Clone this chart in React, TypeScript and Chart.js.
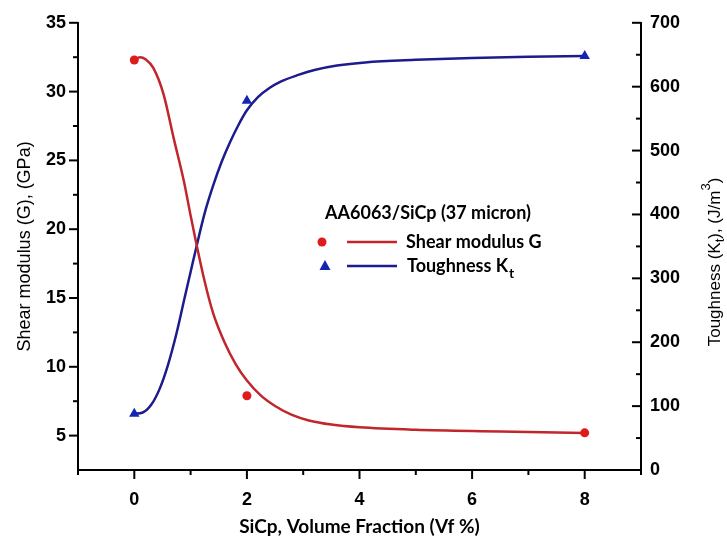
import React, { useEffect, useRef } from 'react';
import { Chart, registerables } from 'chart.js';
Chart.register(...registerables);

// ---- data ----
const xTicks = [0, 2, 4, 6, 8];
const xMinor = [-1, 1, 3, 5, 7, 9];
const gTicks = [5, 10, 15, 20, 25, 30, 35];
const gMinor = [7.5, 12.5, 17.5, 22.5, 27.5, 32.5];
const ktTicks = [0, 100, 200, 300, 400, 500, 600, 700];
const ktMinor = [50, 150, 250, 350, 450, 550, 650];

const vfMeasured = [0, 2, 8];
const gMeasured = [32.3, 7.9, 5.2];
const ktMeasured = [88, 578, 648];

const gFitX = [0, 0.1, 0.2, 0.34, 0.52, 0.7, 0.88, 1.0, 1.1, 1.25, 1.4, 1.6, 1.8, 2.0, 2.25, 2.5, 2.8, 3.1, 3.5, 4.0, 5.0, 6.5, 8];
const gFitY = [32.3, 32.5, 32.35, 31.7, 29.8, 26.6, 23.5, 21.0, 19.0, 16.2, 13.9, 11.8, 10.2, 9.0, 7.9, 7.15, 6.5, 6.1, 5.8, 5.6, 5.42, 5.3, 5.18];

const ktFitX = [0, 0.15, 0.3, 0.45, 0.6, 0.75, 0.9, 1.0, 1.1, 1.25, 1.4, 1.55, 1.7, 1.85, 2.0, 2.2, 2.4, 2.6, 2.9, 3.2, 3.6, 4.1, 5.0, 6.0, 7.0, 8];
const ktFitY = [88, 90, 102, 127, 165, 214, 272, 310, 348, 402, 445, 482, 513, 540, 563, 584, 598, 608, 618, 626, 633, 638, 642, 645, 647, 648];

const legendTitle = 'AA6063/SiCp (37 micron)';
const gLabel = 'Shear modulus G';
const ktLabel = 'Toughness K';
const ktLabelSub = 't';
const xTitle = 'SiCp, Volume Fraction (Vf %)';
const gTitle = 'Shear modulus (G), (GPa)';

const RED_LINE = '#c0262b';
const RED_PT = '#e01b1b';
const BLUE_LINE = '#1c1c8e';
const BLUE_PT = '#1424b4';

const decor = {
  id: 'decor',
  afterDraw(chart: any) {
    const { ctx, chartArea: ca, scales } = chart;
    const sx = scales.x, sl = scales.y, sr = scales.y1;
    ctx.save();
    ctx.strokeStyle = '#000';
    ctx.lineWidth = 2;
    const seg = (x1: number, y1: number, x2: number, y2: number) => {
      ctx.beginPath(); ctx.moveTo(x1, y1); ctx.lineTo(x2, y2); ctx.stroke();
    };
    xTicks.forEach(v => { const p = sx.getPixelForValue(v); seg(p, ca.bottom, p, ca.bottom + 9); });
    xMinor.forEach(v => { const p = sx.getPixelForValue(v); seg(p, ca.bottom, p, ca.bottom + 5); });
    gTicks.forEach(v => { const p = sl.getPixelForValue(v); seg(ca.left - 9, p, ca.left, p); });
    gMinor.forEach(v => { const p = sl.getPixelForValue(v); seg(ca.left - 5, p, ca.left, p); });
    ktTicks.forEach(v => { const p = sr.getPixelForValue(v); seg(ca.right - 9, p, ca.right, p); });
    ktMinor.forEach(v => { const p = sr.getPixelForValue(v); seg(ca.right - 5, p, ca.right, p); });

    ctx.fillStyle = '#000';
    // x title
    ctx.font = 'bold 19px Lato';
    ctx.textAlign = 'center';
    ctx.textBaseline = 'middle';
    ctx.fillText(xTitle, (ca.left + ca.right) / 2, 527);

    // left title
    ctx.save();
    ctx.translate(25, (ca.top + ca.bottom) / 2);
    ctx.rotate(-Math.PI / 2);
    ctx.font = '18px "Liberation Sans"';
    ctx.textAlign = 'center';
    ctx.textBaseline = 'middle';
    ctx.fillText(gTitle, 0, 0);
    ctx.restore();

    // right title with sub/superscript
    ctx.save();
    ctx.translate(715, 262);
    ctx.rotate(-Math.PI / 2);
    ctx.textBaseline = 'middle';
    ctx.textAlign = 'left';
    const big = '17px "Liberation Sans"';
    const small = '13px "Liberation Sans"';
    const parts: [string, string, number][] = [
      ['Toughness (K', big, 0],
      ['t', small, 5],
      ['), (J/m', big, 0],
      ['3', small, -9],
      [')', big, 0],
    ];
    let total = 0;
    parts.forEach(([t, f]) => { ctx.font = f; total += ctx.measureText(t).width; });
    let cx = -total / 2;
    parts.forEach(([t, f, dy]) => { ctx.font = f; ctx.fillText(t, cx, dy); cx += ctx.measureText(t).width; });
    ctx.restore();

    // legend
    ctx.textAlign = 'left';
    ctx.textBaseline = 'alphabetic';
    ctx.font = 'bold 18px Lato';
    ctx.fillText(legendTitle, 325, 219);
    // row 1
    ctx.fillStyle = RED_PT;
    ctx.beginPath(); ctx.arc(322, 242, 4.5, 0, Math.PI * 2); ctx.fill();
    ctx.strokeStyle = RED_LINE; ctx.lineWidth = 2.5;
    seg(347, 242, 397, 242);
    ctx.fillStyle = '#000';
    ctx.textBaseline = 'middle';
    ctx.fillText(gLabel, 406, 242);
    // row 2
    ctx.fillStyle = BLUE_PT;
    ctx.beginPath(); ctx.moveTo(325, 260); ctx.lineTo(330.5, 270); ctx.lineTo(319.5, 270); ctx.closePath(); ctx.fill();
    ctx.strokeStyle = BLUE_LINE;
    seg(347, 266, 397, 266);
    ctx.fillStyle = '#000';
    ctx.fillText(ktLabel, 407, 266);
    const w = ctx.measureText(ktLabel).width;
    ctx.font = 'bold 14px Lato';
    ctx.fillText(ktLabelSub, 407 + w + 1, 273);
    ctx.restore();
  },
};

export default function App() {
  const ref = useRef<HTMLCanvasElement>(null);
  useEffect(() => {
    if (!ref.current) return;
    const tickFont = { family: '"Liberation Sans"', size: 18, weight: 'bold' as const };
    const chart = new Chart(ref.current, {
      type: 'scatter',
      data: {
        datasets: [
          {
            label: 'G data', data: vfMeasured.map((x, i) => ({ x, y: gMeasured[i] })),
            yAxisID: 'y', pointStyle: 'circle', pointRadius: 4.5,
            backgroundColor: RED_PT, borderColor: RED_PT, borderWidth: 0,
          },
          {
            label: 'Kt data', data: vfMeasured.map((x, i) => ({ x, y: ktMeasured[i] })),
            yAxisID: 'y1', pointStyle: 'triangle', pointRadius: 6,
            backgroundColor: BLUE_PT, borderColor: BLUE_PT, borderWidth: 0,
          },
          {
            label: gLabel, data: gFitX.map((x, i) => ({ x, y: gFitY[i] })),
            yAxisID: 'y', showLine: true, pointRadius: 0, borderColor: RED_LINE,
            borderWidth: 2.5, cubicInterpolationMode: 'monotone', fill: false,
          },
          {
            label: ktLabel + ktLabelSub, data: ktFitX.map((x, i) => ({ x, y: ktFitY[i] })),
            yAxisID: 'y1', showLine: true, pointRadius: 0, borderColor: BLUE_LINE,
            borderWidth: 2.5, cubicInterpolationMode: 'monotone', fill: false,
          },
        ] as any,
      },
      options: {
        animation: false,
        responsive: true,
        maintainAspectRatio: false,
        layout: { padding: { top: 18, left: 0, right: 0, bottom: 0 } },
        plugins: { legend: { display: false }, tooltip: { enabled: false } },
        scales: {
          x: {
            type: 'linear', min: -1, max: 9,
            afterBuildTicks: (s: any) => { s.ticks = xTicks.map(v => ({ value: v })); },
            afterFit: (s: any) => { s.height = 74; },
            grid: { display: true, drawOnChartArea: false, color: 'rgba(0,0,0,0)', drawTicks: true, tickLength: 0 },
            border: { display: true, color: '#000', width: 2 },
            ticks: { font: tickFont, color: '#000', padding: 19, maxRotation: 0 },
          },
          y: {
            type: 'linear', position: 'left', min: 2.5, max: 35,
            afterBuildTicks: (s: any) => { s.ticks = gTicks.map(v => ({ value: v })); },
            afterFit: (s: any) => { s.width = 78; },
            grid: { display: true, drawOnChartArea: false, color: 'rgba(0,0,0,0)', drawTicks: true, tickLength: 0 },
            border: { display: true, color: '#000', width: 2 },
            ticks: { font: tickFont, color: '#000', padding: 12 },
          },
          y1: {
            type: 'linear', position: 'right', min: 0, max: 700,
            afterBuildTicks: (s: any) => { s.ticks = ktTicks.map(v => ({ value: v })); },
            afterFit: (s: any) => { s.width = 86; },
            grid: { display: true, drawOnChartArea: false, color: 'rgba(0,0,0,0)', drawTicks: true, tickLength: 0 },
            border: { display: true, color: '#000', width: 2 },
            ticks: { font: tickFont, color: '#000', padding: 9 },
          },
        },
      } as any,
      plugins: [decor],
    });
    return () => chart.destroy();
  }, []);
  return (
    <div style={{ position: 'absolute', left: 0, top: 0, width: 727, height: 544, background: '#fff' }}>
      <canvas ref={ref} />
    </div>
  );
}
